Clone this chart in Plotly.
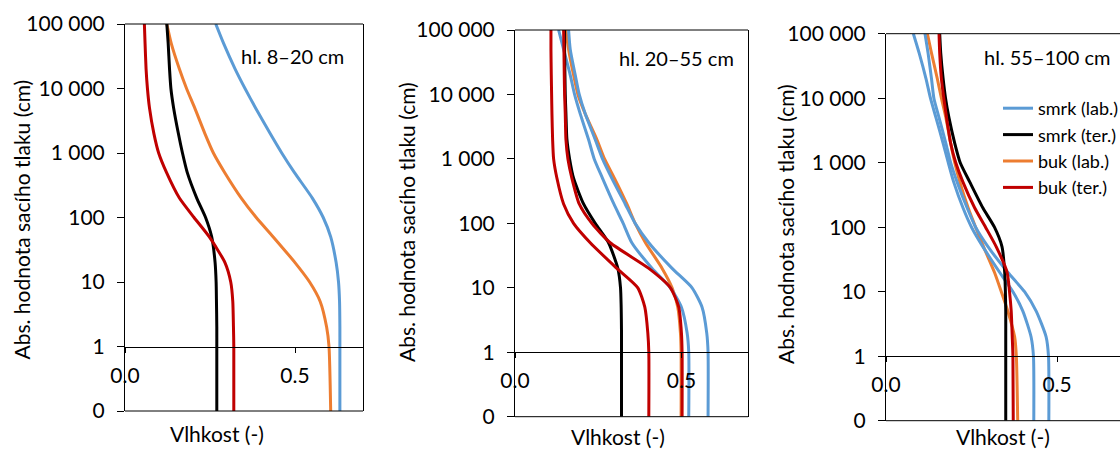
import plotly.graph_objects as go

# Suction pressure head |h| (cm); 0 is drawn one decade below 1 on the pseudo-log axis
H = [0, 1, 2, 5, 10, 20, 50, 100, 200, 500, 1000, 2000, 5000, 10000, 20000, 50000, 100000]

Y_TICKS = [0, 1, 10, 100, 1000, 10000, 100000]
Y_TICK_TEXT = ["0", "1", "10", "100", "1 000", "10 000", "100 000"]
X_TICKS = [0.0, 0.5]
X_TICK_TEXT = ["0.0", "0.5"]

PANEL_TITLES = ["hl. 8–20 cm", "hl. 20–55 cm", "hl. 55–100 cm"]
SERIES_NAMES = ["smrk (lab.)", "smrk (ter.)", "buk (lab.)", "buk (ter.)"]

# Panel 1 (8–20 cm) – moisture (-)
p1_smrk_lab = [0.632, 0.632, 0.632, 0.631, 0.628, 0.621, 0.605, 0.583, 0.551, 0.498, 0.461, 0.427, 0.384, 0.353, 0.324, 0.290, 0.267]
p1_smrk_ter = [0.270, 0.270, 0.270, 0.269, 0.268, 0.265, 0.255, 0.237, 0.211, 0.183, 0.169, 0.157, 0.143, 0.135, 0.131, 0.127, 0.123]
p1_buk_lab = [0.605, 0.600, 0.593, 0.574, 0.543, 0.500, 0.436, 0.386, 0.342, 0.293, 0.260, 0.235, 0.205, 0.181, 0.160, 0.136, 0.123]
p1_buk_ter = [0.320, 0.320, 0.319, 0.317, 0.311, 0.294, 0.248, 0.203, 0.160, 0.122, 0.099, 0.085, 0.072, 0.066, 0.062, 0.059, 0.057]

# Panel 2 (20–55 cm)
p2_smrk_lab_a = [0.522, 0.522, 0.517, 0.500, 0.467, 0.412, 0.351, 0.325, 0.297, 0.263, 0.238, 0.221, 0.196, 0.179, 0.166, 0.146, 0.131]
p2_smrk_lab_b = [0.580, 0.580, 0.576, 0.562, 0.532, 0.472, 0.402, 0.361, 0.331, 0.291, 0.263, 0.241, 0.211, 0.193, 0.181, 0.166, 0.161]
p2_smrk_ter = [0.320, 0.320, 0.320, 0.319, 0.317, 0.309, 0.281, 0.241, 0.206, 0.176, 0.164, 0.156, 0.153, 0.151, 0.150, 0.149, 0.149]
p2_buk_lab = [0.499, 0.499, 0.497, 0.489, 0.472, 0.442, 0.392, 0.361, 0.336, 0.299, 0.269, 0.246, 0.211, 0.189, 0.176, 0.161, 0.153]
p2_buk_ter_a = [0.402, 0.402, 0.399, 0.390, 0.369, 0.306, 0.226, 0.176, 0.146, 0.126, 0.116, 0.113, 0.111, 0.110, 0.109, 0.108, 0.108]
p2_buk_ter_b = [0.502, 0.502, 0.500, 0.492, 0.467, 0.402, 0.286, 0.231, 0.193, 0.171, 0.159, 0.153, 0.151, 0.149, 0.148, 0.147, 0.146]

# Panel 3 (55–100 cm)
p3_smrk_lab_a = [0.432, 0.431, 0.424, 0.400, 0.371, 0.332, 0.283, 0.250, 0.225, 0.198, 0.182, 0.167, 0.146, 0.130, 0.117, 0.097, 0.080]
p3_smrk_lab_b = [0.476, 0.475, 0.468, 0.439, 0.405, 0.356, 0.298, 0.262, 0.237, 0.208, 0.189, 0.175, 0.155, 0.140, 0.133, 0.123, 0.114]
p3_smrk_ter = [0.350, 0.350, 0.350, 0.350, 0.349, 0.347, 0.339, 0.317, 0.283, 0.245, 0.217, 0.201, 0.184, 0.174, 0.167, 0.160, 0.157]
p3_buk_lab = [0.385, 0.381, 0.376, 0.356, 0.337, 0.317, 0.285, 0.262, 0.240, 0.216, 0.201, 0.189, 0.175, 0.162, 0.150, 0.133, 0.121]
p3_buk_ter = [0.372, 0.371, 0.369, 0.366, 0.361, 0.354, 0.322, 0.291, 0.259, 0.225, 0.204, 0.189, 0.177, 0.169, 0.162, 0.157, 0.155]

COLORS = {"smrk (lab.)": "#5B9BD5", "smrk (ter.)": "#000000",
          "buk (lab.)": "#ED7D31", "buk (ter.)": "#C00000"}
RANK = {"smrk (lab.)": 1, "smrk (ter.)": 2, "buk (lab.)": 3, "buk (ter.)": 4}

FONT = "Lato, 'Open Sans', sans-serif"
W, HGT = 1120, 450
FS = 21


def pos(h):
    # pseudo-log: value 0 is placed one decade below 1
    return h if h > 0 else 0.1


Hplot = [pos(v) for v in H]

panels = [
    [("buk (lab.)", p1_buk_lab), ("smrk (lab.)", p1_smrk_lab), ("smrk (ter.)", p1_smrk_ter), ("buk (ter.)", p1_buk_ter)],
    [("buk (lab.)", p2_buk_lab), ("smrk (lab.)", p2_smrk_lab_a), ("smrk (lab.)", p2_smrk_lab_b),
     ("smrk (ter.)", p2_smrk_ter), ("buk (ter.)", p2_buk_ter_a), ("buk (ter.)", p2_buk_ter_b)],
    [("buk (lab.)", p3_buk_lab), ("smrk (lab.)", p3_smrk_lab_a), ("smrk (lab.)", p3_smrk_lab_b),
     ("smrk (ter.)", p3_smrk_ter), ("buk (ter.)", p3_buk_ter)],
]

# pixel geometry of plot areas: (left, right, top, bottom)
boxes = [(125, 363, 24, 411), (515, 748, 30, 416.7), (886, 1120, 33.7, 420.7)]
x_max = [0.7, 0.7, 0.684]
ytitle_x = [20.5, 406, 785]
ytitle_y = [220, 222, 224]
xtitle_pos = [(217, 433), (618, 436), (1003, 436)]
ptitle_pos = [(292, 56), (676, 58), (1047, 57)]

fig = go.Figure()
shown = set()
for i, series in enumerate(panels):
    xa = "x" if i == 0 else f"x{i+1}"
    ya = "y" if i == 0 else f"y{i+1}"
    for name, vals in series:
        show = (i == 2) and (name not in shown)
        if show:
            shown.add(name)
        fig.add_trace(go.Scatter(
            x=vals, y=Hplot, mode="lines", name=name, legendgroup=name,
            showlegend=show, legendrank=RANK[name],
            line=dict(color=COLORS[name], width=3, shape="spline", smoothing=0.6),
            xaxis=xa, yaxis=ya, hoverinfo="skip"))

layout = dict(
    width=W, height=HGT, margin=dict(l=0, r=0, t=0, b=0, autoexpand=False),
    paper_bgcolor="white", plot_bgcolor="white",
    font=dict(family=FONT, color="#000000", size=FS),
    showlegend=True,
    legend=dict(x=998 / W, y=1 - 90 / HGT, xanchor="left", yanchor="top",
                bgcolor="rgba(0,0,0,0)", font=dict(size=18, family=FONT),
                itemwidth=30, tracegroupgap=0),
)
annotations = []
shapes = []
for i in range(3):
    l, r, t, b = boxes[i]
    xd = [l / W, min(r / W, 1.0)]
    yd = [1 - b / HGT, 1 - t / HGT]
    xkey = "xaxis" if i == 0 else f"xaxis{i+1}"
    ykey = "yaxis" if i == 0 else f"yaxis{i+1}"
    yref = "y" if i == 0 else f"y{i+1}"
    xref = "x" if i == 0 else f"x{i+1}"
    layout[xkey] = dict(
        domain=xd, range=[0, x_max[i]], anchor="free",
        position=yd[0] + (yd[1] - yd[0]) / 6.0,
        showline=True, linecolor="#000000", linewidth=1,
        ticks="outside", ticklen=5, tickcolor="#000000",
        tickvals=X_TICKS, ticktext=X_TICK_TEXT, ticklabelstandoff=5,
        showgrid=False, zeroline=False, tickfont=dict(size=FS))
    layout[ykey] = dict(
        domain=yd, type="log", range=[-1, 5], anchor=xref,
        tickvals=[pos(v) for v in Y_TICKS], ticktext=Y_TICK_TEXT,
        showline=True, linecolor="#000000", linewidth=1, mirror=(i < 2),
        ticks="outside", ticklen=7, tickcolor="#000000", ticklabelstandoff=8,
        showgrid=False, zeroline=False, tickfont=dict(size=FS))
    for yy in (0, 1):
        shapes.append(dict(type="line", xref=f"{xref} domain", yref=f"{yref} domain",
                           x0=0, x1=1, y0=yy, y1=yy, line=dict(color="#000000", width=1)))
    annotations.append(dict(text="Abs. hodnota sacího tlaku (cm)", textangle=-90,
                            xref="paper", yref="paper", x=ytitle_x[i] / W, y=1 - ytitle_y[i] / HGT,
                            xanchor="center", yanchor="middle", showarrow=False,
                            font=dict(size=FS)))
    annotations.append(dict(text="Vlhkost (-)", xref="paper", yref="paper",
                            x=xtitle_pos[i][0] / W, y=1 - xtitle_pos[i][1] / HGT,
                            xanchor="center", yanchor="middle", showarrow=False,
                            font=dict(size=FS)))
    annotations.append(dict(text=PANEL_TITLES[i], xref="paper", yref="paper",
                            x=ptitle_pos[i][0] / W, y=1 - ptitle_pos[i][1] / HGT,
                            xanchor="center", yanchor="middle", showarrow=False,
                            font=dict(size=20)))
layout["annotations"] = annotations
layout["shapes"] = shapes
fig.update_layout(**layout)

fig.write_html("out.html")
